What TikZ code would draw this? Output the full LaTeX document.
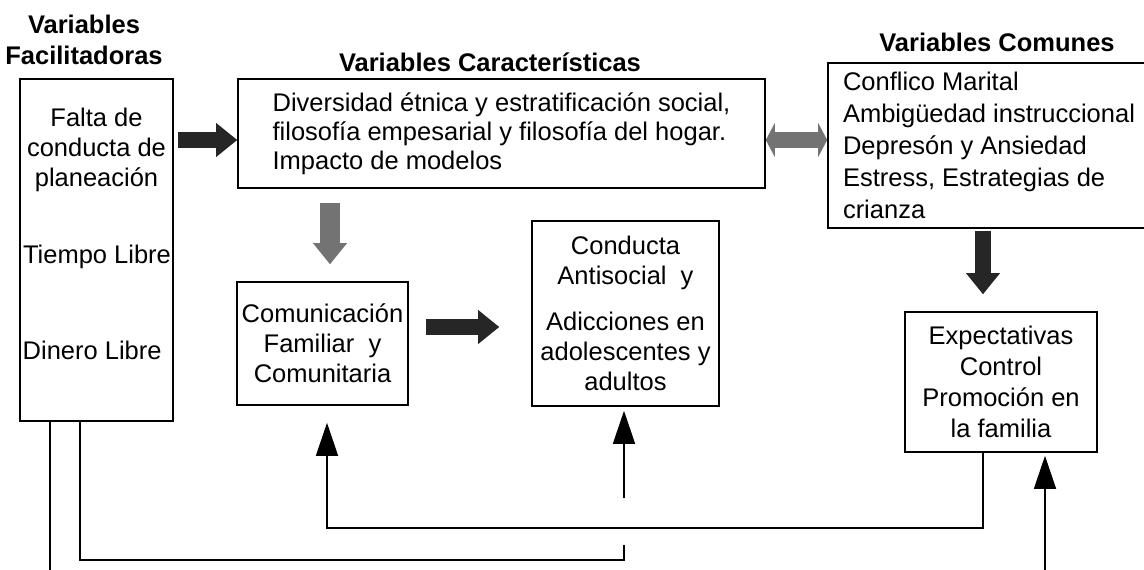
\documentclass[tikz,border=0pt]{standalone}
\usepackage{fontspec}
\setmainfont{Liberation Sans}
\usetikzlibrary{arrows.meta,positioning}
\tikzset{>/.tip={Triangle[width=22pt,length=33pt]}}
\tikzset{blk/.tip={Triangle[width=34pt,length=21pt,line width=0pt]}}
\tikzset{dbl/.tip={Triangle[width=34pt,length=9pt,line width=0pt]}}
\tikzset{box/.style={draw,line width=1.6pt,inner sep=0pt,align=center}}
\tikzset{ttl/.style={font=\fontsize{25.5}{31}\selectfont\bfseries,align=center}}
\tikzset{fat/.style={line width=16pt,draw=black!85,-blk}}

\begin{document}
\begin{tikzpicture}[x=1pt,y=-1pt,font=\fontsize{25.5}{30}\selectfont,line width=1.4pt]
        \useasboundingbox (0,0) rectangle (1144,570);
        \node[box,minimum width=153pt,minimum height=342pt](fac) at (96.5,250){};
        \node[align=center](falta) at (96.5,150){Falta de\\conducta de\\planeación};
        \node(tiempo) at (97,257){Tiempo Libre};
        \node[anchor=west,inner sep=2pt](dinero) at (20,350){Dinero Libre};
        \node[ttl](tfac) at (84,40){Variables\\Facilitadoras};
        \node[box,minimum width=527pt,minimum height=109pt,align=left,font=\fontsize{25.5}{29}\selectfont](car) at (501.5,133.5){Diversidad étnica y estratificación social,\\filosofía empesarial y filosofía del hogar.\\Impacto de modelos};
        \node[ttl](tcar) at (490,62){Variables Características};
        \node[box,minimum width=322pt,minimum height=165pt,align=left,font=\fontsize{25.5}{32}\selectfont](com) at (989,145.5){Conflico Marital\\Ambigüedad instruccional\\Depresón y Ansiedad\\Estress, Estrategias de\\crianza};
        \node[ttl](tcom) at (997,42){Variables Comunes};
        \node[box,minimum width=171pt,minimum height=123pt](fam) at (322.5,343.5){Comunicación\\Familiar~ y\\Comunitaria};
        \node[box,minimum width=187pt,minimum height=185pt](cond) at (625.5,313.5){Conducta\\Antisocial~ y\\[16pt]Adicciones en\\adolescentes y\\adultos};
        \node[box,minimum width=192pt,minimum height=140pt,font=\fontsize{25.5}{31}\selectfont](expc) at (1001,382){Expectativas\\Control\\Promoción en\\la familia};
        \coordinate (e1) at (50,570);
        \coordinate (e2) at (624,545);
        \coordinate (e3) at (624,498);
        \coordinate (e4) at (1045,570);
        \draw[fat,shorten <=4pt] (fac.east |- 0,140) -- (car.west |- 0,140);
        \draw[line width=16pt,draw=black!55,dbl-dbl] (car.east |- 0,140) -- (com.west |- 0,140);
        \draw[line width=20pt,draw=black!55,-blk,shorten <=14pt,shorten >=17pt] (car.south -| 330,0) -- (fam.north -| 330,0);
        \draw[fat,shorten <=17pt,shorten >=32pt] (fam.east |- 0,327) -- (cond.west |- 0,327);
        \draw[fat,shorten <=2pt,shorten >=17pt] (com.south -| 983,0) -- (expc.north -| 983,0);
        \draw (fac.south -| e1) -- (e1);
        \draw (fac.south -| 80,0) |- (e2 |- 0,560) -- (e2);
        \draw[->,shorten >=4pt] (e3) -- (cond.south -| e3);
        \draw[->,shorten >=17pt] (expc.south -| 983,0) |- (327,528) -- (fam.south -| 327,0);
        \draw[->,shorten >=3pt] (e4) -- (expc.south -| e4);
      \end{tikzpicture}
\end{document}
